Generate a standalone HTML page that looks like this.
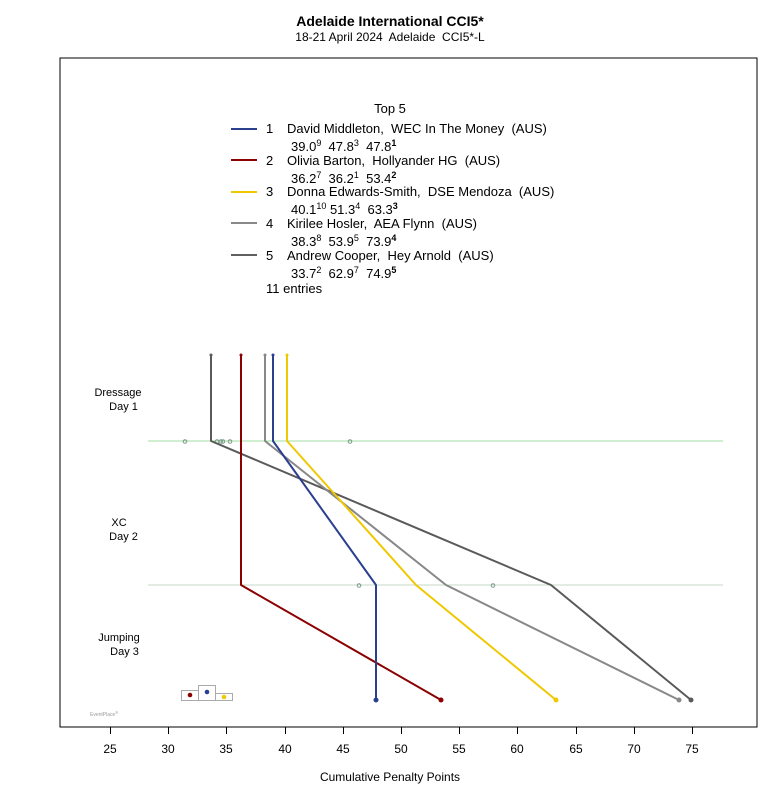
<!DOCTYPE html>
<html><head><meta charset="utf-8"><style>
html,body{margin:0;padding:0;background:#fff;}
svg{display:block;font-family:"Liberation Sans",sans-serif;}
text{white-space:pre;}
</style></head><body>
<svg width="780" height="800" viewBox="0 0 780 800" xmlns="http://www.w3.org/2000/svg" xml:space="preserve">
<rect width="780" height="800" fill="#fff"/>
<text x="390" y="26" font-size="14" font-weight="bold" text-anchor="middle">Adelaide International CCI5*</text>
<text x="390" y="41" font-size="12" text-anchor="middle">18-21 April 2024  Adelaide  CCI5*-L</text>
<rect x="60" y="58" width="697" height="669" fill="none" stroke="#000" stroke-width="1"/>
<g font-size="13">
<text x="390" y="113" text-anchor="middle">Top 5</text>
<line x1="231" y1="129" x2="257" y2="129" stroke="#2b3f8f" stroke-width="2"/>
<text x="266" y="133">1</text><text x="287" y="133">David Middleton,  WEC In The Money  (AUS)</text>
<text x="291" y="151">39.0<tspan font-size="9" dy="-5">9</tspan><tspan dy="5">  47.8</tspan><tspan font-size="9" dy="-5">3</tspan><tspan dy="5">  47.8</tspan><tspan font-size="9" dy="-5" font-weight="bold">1</tspan></text>
<line x1="231" y1="160" x2="257" y2="160" stroke="#8b0000" stroke-width="2"/>
<text x="266" y="165">2</text><text x="287" y="165">Olivia Barton,  Hollyander HG  (AUS)</text>
<text x="291" y="183">36.2<tspan font-size="9" dy="-5">7</tspan><tspan dy="5">  36.2</tspan><tspan font-size="9" dy="-5">1</tspan><tspan dy="5">  53.4</tspan><tspan font-size="9" dy="-5" font-weight="bold">2</tspan></text>
<line x1="231" y1="192" x2="257" y2="192" stroke="#f0c800" stroke-width="2"/>
<text x="266" y="196">3</text><text x="287" y="196">Donna Edwards-Smith,  DSE Mendoza  (AUS)</text>
<text x="291" y="214">40.1<tspan font-size="9" dy="-5">10</tspan><tspan dy="5"> 51.3</tspan><tspan font-size="9" dy="-5">4</tspan><tspan dy="5">  63.3</tspan><tspan font-size="9" dy="-5" font-weight="bold">3</tspan></text>
<line x1="231" y1="223" x2="257" y2="223" stroke="#888" stroke-width="2"/>
<text x="266" y="228">4</text><text x="287" y="228">Kirilee Hosler,  AEA Flynn  (AUS)</text>
<text x="291" y="246">38.3<tspan font-size="9" dy="-5">8</tspan><tspan dy="5">  53.9</tspan><tspan font-size="9" dy="-5">5</tspan><tspan dy="5">  73.9</tspan><tspan font-size="9" dy="-5" font-weight="bold">4</tspan></text>
<line x1="231" y1="255" x2="257" y2="255" stroke="#606060" stroke-width="2"/>
<text x="266" y="260">5</text><text x="287" y="260">Andrew Cooper,  Hey Arnold  (AUS)</text>
<text x="291" y="278">33.7<tspan font-size="9" dy="-5">2</tspan><tspan dy="5">  62.9</tspan><tspan font-size="9" dy="-5">7</tspan><tspan dy="5">  74.9</tspan><tspan font-size="9" dy="-5" font-weight="bold">5</tspan></text>
<text x="266" y="293">11 entries</text>
</g>
<g font-size="11" text-anchor="middle">
<text x="118" y="396">Dressage</text><text x="122" y="410"> Day 1</text>
<text x="119" y="526">XC</text><text x="122" y="540"> Day 2</text>
<text x="119" y="641">Jumping</text><text x="123" y="655"> Day 3</text>
</g>
<line x1="148" y1="441" x2="723" y2="441" stroke="#a0dca0" stroke-width="1"/>
<line x1="148" y1="585" x2="723" y2="585" stroke="#c4d8c4" stroke-width="1"/>
<g fill="none" stroke="#7a9a8a" stroke-width="1">
<circle cx="185" cy="441.5" r="1.8"/><circle cx="217" cy="441.5" r="1.8"/><circle cx="221" cy="441.5" r="1.8"/><circle cx="223" cy="441.5" r="1.8"/><circle cx="230" cy="441.5" r="1.8"/><circle cx="350" cy="441.5" r="1.8"/>
<circle cx="359" cy="585.5" r="1.8"/><circle cx="493" cy="585.5" r="1.8"/>
</g>
<g fill="none" stroke-width="2" stroke-linejoin="round">
<polyline points="211,355 211,441 551,585 691,700" stroke="#5a5a5a"/>
<polyline points="265,355 265,441 446,585 679,700" stroke="#888"/>
<polyline points="287,355 287,441 416,585 556,700" stroke="#f0c800"/>
<polyline points="241,355 241,585 441,700" stroke="#8b0000"/>
<polyline points="273,355 273,441 376,585 376,700" stroke="#2b3f8f"/>
</g>
<g>
<circle cx="211" cy="355" r="1.5" fill="#5a5a5a"/><circle cx="265" cy="355" r="1.5" fill="#888"/><circle cx="287" cy="355" r="1.5" fill="#f0c800"/><circle cx="241" cy="355" r="1.5" fill="#8b0000"/><circle cx="273" cy="355" r="1.5" fill="#2b3f8f"/>
<circle cx="691" cy="700" r="2.5" fill="#5a5a5a"/><circle cx="679" cy="700" r="2.5" fill="#888"/><circle cx="556" cy="700" r="2.5" fill="#f0c800"/><circle cx="441" cy="700" r="2.5" fill="#8b0000"/><circle cx="376" cy="700" r="2.5" fill="#2b3f8f"/>
</g>
<g fill="none" stroke="#aaa" stroke-width="1">
<rect x="181.5" y="690.5" width="17" height="10"/><rect x="198.5" y="685.5" width="17" height="15"/><rect x="215.5" y="693.5" width="17" height="7"/>
</g>
<circle cx="190" cy="695" r="2.3" fill="#8b0000"/><circle cx="207" cy="692" r="2.3" fill="#2b3f8f"/><circle cx="224" cy="697" r="2.3" fill="#f0c800"/>
<text x="90" y="716" font-size="5" fill="#999">EventPlace<tspan font-size="4" dy="-2">®</tspan></text>
<g stroke="#000" stroke-width="1">
<line x1="110.5" y1="727" x2="110.5" y2="734"/><line x1="168.5" y1="727" x2="168.5" y2="734"/><line x1="226.5" y1="727" x2="226.5" y2="734"/><line x1="285.5" y1="727" x2="285.5" y2="734"/><line x1="343.5" y1="727" x2="343.5" y2="734"/><line x1="401.5" y1="727" x2="401.5" y2="734"/><line x1="459.5" y1="727" x2="459.5" y2="734"/><line x1="517.5" y1="727" x2="517.5" y2="734"/><line x1="576.5" y1="727" x2="576.5" y2="734"/><line x1="634.5" y1="727" x2="634.5" y2="734"/><line x1="692.5" y1="727" x2="692.5" y2="734"/>
</g>
<g font-size="12" text-anchor="middle">
<text x="110" y="753">25</text><text x="168" y="753">30</text><text x="226" y="753">35</text><text x="285" y="753">40</text><text x="343" y="753">45</text><text x="401" y="753">50</text><text x="459" y="753">55</text><text x="517" y="753">60</text><text x="576" y="753">65</text><text x="634" y="753">70</text><text x="692" y="753">75</text>
</g>
<text x="390" y="781" font-size="12" text-anchor="middle">Cumulative Penalty Points</text>
</svg>
</body></html>
